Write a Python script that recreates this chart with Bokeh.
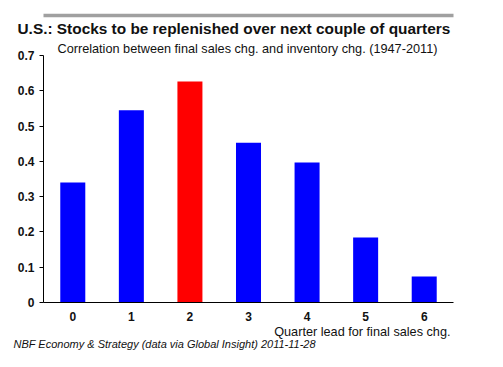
from bokeh.plotting import figure
from bokeh.models import Range1d, FixedTicker, Title, LinearAxis
from bokeh.layouts import column
from bokeh.embed import file_html
from bokeh.resources import INLINE

# data
lags = [0, 1, 2, 3, 4, 5, 6]
lag_labels = ["0", "1", "2", "3", "4", "5", "6"]
corr = [0.34, 0.545, 0.626, 0.453, 0.397, 0.184, 0.074]
y_ticks = [0, 0.1, 0.2, 0.3, 0.4, 0.5, 0.6, 0.7]
y_tick_labels = ["0", "0.1", "0.2", "0.3", "0.4", "0.5", "0.6", "0.7"]
highlight_lag = 2

title = "U.S.: Stocks to be replenished over next couple of quarters"
subtitle = "Correlation between final sales chg. and inventory chg. (1947-2011)"
xlabel = "Quarter lead for final sales chg."
footer = "NBF Economy & Strategy (data via Global Insight) 2011-11-28"

FONT = "Liberation Sans"
TOP_Y = 12  # figure top (page px)
FL, FR, FT, FB = 43, 453, 55, 302  # frame edges in page pixels
W, H = 503, 341

colors = ["#ff0000" if l == highlight_lag else "#0000ff" for l in lags]

p = figure(width=W, height=H, output_backend="svg", toolbar_location=None,
           x_range=Range1d(-0.5, 6.5), y_range=Range1d(0, 0.7),
           min_border_left=FL, min_border_right=W - FR, min_border_top=FT - TOP_Y,
           min_border_bottom=TOP_Y + H - FB, margin=(0, 0, 0, 0))
p.outline_line_color = None
p.xgrid.visible = False
p.ygrid.visible = False

p.vbar(x=lags, top=corr, width=0.427, fill_color=colors, line_color=None)

# y axis
ya = p.yaxis[0]
ya.ticker = FixedTicker(ticks=y_ticks)
ya.major_label_overrides = {t: s for t, s in zip(y_ticks, y_tick_labels)}
ya.major_tick_in = 0
ya.major_tick_out = 4
ya.minor_tick_line_color = None
ya.axis_line_color = "black"
ya.major_tick_line_color = "black"
ya.major_label_text_font = FONT
ya.major_label_text_font_size = "12px"
ya.major_label_text_font_style = "bold"
ya.major_label_text_color = "#111111"
ya.major_label_standoff = 5

xa = p.xaxis[0]
xa.ticker = FixedTicker(ticks=lags)
xa.major_label_overrides = {t: s for t, s in zip(lags, lag_labels)}
xa.major_tick_in = 0
xa.major_tick_out = 0
xa.minor_tick_line_color = None
xa.axis_line_color = "black"
xa.major_label_text_font = FONT
xa.major_label_text_font_size = "12px"
xa.major_label_text_font_style = "bold"
xa.major_label_text_color = "#111111"
xa.major_label_standoff = 9


def add_title(text, place, size, style, align, offset, standoff):
    p.add_layout(Title(text=text, align=align, offset=offset, standoff=standoff,
                       text_font=FONT, text_font_size=size, text_font_style=style,
                       text_color="#111111"), place)


# above: first added sits closest to the frame
add_title(subtitle, "above", "12.7px", "normal", "left", 57 - FL, 0)
add_title(title, "above", "15.4px", "bold", "left", 17 - FL, 5)
# below: after the x axis
add_title(xlabel, "below", "12.7px", "normal", "right", 3, -1)
add_title(footer, "below", "11px", "italic", "left", 13 - FL, -5)


def rule_axis():
    # a tick-less axis used only as a grey horizontal rule
    return LinearAxis(ticker=FixedTicker(ticks=[]), axis_line_color="#a0a0a0",
                      axis_line_width=3.5, major_tick_in=0, major_tick_out=0,
                      minor_tick_in=0, minor_tick_out=0, major_tick_line_color=None,
                      minor_tick_line_color=None, major_label_text_font_size="0px",
                      major_label_standoff=0, axis_label_standoff=0)


p.add_layout(rule_axis(), "above")


def gray_line(top_gap, thickness):
    g = figure(width=486, height=thickness, output_backend="svg", toolbar_location=None,
               x_axis_type=None, y_axis_type=None,
               x_range=Range1d(0, 1), y_range=Range1d(0, 1),
               min_border=0, min_border_left=0, min_border_right=0,
               min_border_top=0, min_border_bottom=0,
               margin=(top_gap, 0, 0, 7))
    g.background_fill_color = "#a0a0a0"
    g.border_fill_color = "#a0a0a0"
    g.outline_line_color = None
    g.xgrid.visible = False
    g.ygrid.visible = False
    return g


layout = column(gray_line(9, 3), p, gray_line(0, 4), spacing=0)

open("out.html", "w").write(file_html(layout, INLINE))
